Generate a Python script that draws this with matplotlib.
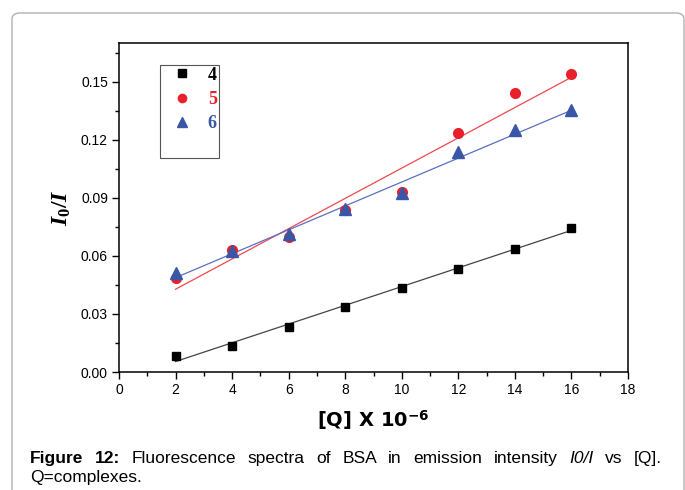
import numpy as np
import matplotlib
matplotlib.use("Agg")
import matplotlib.pyplot as plt
from matplotlib.patches import FancyBboxPatch
from matplotlib.ticker import MultipleLocator

plt.rcParams["font.family"] = ["Liberation Sans", "DejaVu Sans"]
plt.rcParams["mathtext.fontset"] = "custom"
plt.rcParams["mathtext.it"] = "Liberation Serif:italic:bold"
plt.rcParams["mathtext.rm"] = "Liberation Serif:bold"
plt.rcParams["mathtext.bf"] = "DejaVu Sans:bold"

# ── data ────────────────────────────────────────────────────────────────────
conc = [2, 4, 6, 8, 10, 12, 14, 16]
ratio_4 = [0.0084, 0.0136, 0.0234, 0.0338, 0.0436, 0.0533, 0.0638, 0.0745]
ratio_5 = [0.0486, 0.0630, 0.0700, 0.0838, 0.0930, 0.1236, 0.1443, 0.1540]
ratio_6 = [0.0512, 0.0625, 0.0715, 0.0840, 0.0925, 0.1138, 0.1250, 0.1355]
labels = ["4", "5", "6"]

MARK_COLORS = ["#000000", "#e8202a", "#3a57a7"]
LINE_COLORS = ["#444444", "#f0484e", "#5a6fc0"]
MARKERS = ["s", "o", "^"]
SIZES = [6.0, 7.0, 8.0]

fig = plt.figure(figsize=(6.85, 4.9), dpi=100)

# outer rounded frame of the page
frame = FancyBboxPatch((12 / 685, -0.1), (672 / 685), 1.06 - 13 / 490 + 0.04,
                       boxstyle="round,pad=0,rounding_size=0.012",
                       transform=fig.transFigure, fill=False,
                       edgecolor="#b0b0b0", linewidth=1.0, zorder=0)
fig.patches.append(frame)

ax = fig.add_axes([119 / 685, 1 - 372 / 490, 509 / 685, 329 / 490])

x = np.array(conc, dtype=float)
handles = []
for ys, lab, mc, lc, mk, ms in zip([ratio_4, ratio_5, ratio_6], labels,
                                   MARK_COLORS, LINE_COLORS, MARKERS, SIZES):
    ys = np.array(ys)
    k, b = np.polyfit(x, ys, 1)
    ax.plot(x, k * x + b, color=lc, lw=0.9, zorder=2)
    h, = ax.plot(x, ys, ls="none", marker=mk, ms=ms, color=mc,
                 markeredgecolor=mc, label=lab, zorder=3)
    handles.append(h)

ax.set_xlim(0, 18)
ax.set_ylim(0, 0.17)
ax.xaxis.set_major_locator(MultipleLocator(2))
ax.xaxis.set_minor_locator(MultipleLocator(1))
ax.yaxis.set_major_locator(MultipleLocator(0.03))
ax.yaxis.set_minor_locator(MultipleLocator(0.015))
ax.yaxis.set_major_formatter(plt.FuncFormatter(lambda v, p: f"{v:.2f}"))
ax.tick_params(which="major", direction="out", length=5, width=1.0,
               labelsize=10, pad=3)
ax.tick_params(which="minor", direction="out", length=3, width=1.0)
for s in ax.spines.values():
    s.set_linewidth(1.1)

ax.set_xlabel(r"[Q] X 10$^{\mathbf{-6}}$", fontsize=14, fontweight="bold",
              family="DejaVu Sans", labelpad=8)
ax.set_ylabel(r"$I_0/I$", fontsize=17, labelpad=6)

blank, = ax.plot([], [], ls="none", label=" ")
leg = ax.legend(handles=handles + [blank], loc="upper left",
                bbox_to_anchor=(41 / 509, 1 - 22 / 329), borderaxespad=0,
                fancybox=False, edgecolor="#555555", framealpha=1,
                handlelength=2.2, handletextpad=0.35, labelspacing=0.4,
                borderpad=0.1, markerscale=0.85,
                prop={"family": "Liberation Serif", "weight": "bold",
                      "size": 13})
leg.get_frame().set_linewidth(0.8)
for t, c in zip(leg.get_texts(), MARK_COLORS):
    t.set_color(c)

# ── caption, justified across the first line ────────────────────────────────
line1 = [("Figure", "bold", "normal"), ("12:", "bold", "normal"),
         ("Fluorescence", "normal", "normal"), ("spectra", "normal", "normal"),
         ("of", "normal", "normal"), ("BSA", "normal", "normal"),
         ("in", "normal", "normal"), ("emission", "normal", "normal"),
         ("intensity", "normal", "normal"), ("I0/I", "normal", "italic"),
         ("vs", "normal", "normal"), ("[Q].", "normal", "normal")]
cap_kw = dict(fontsize=12.5, family=["Liberation Sans Narrow", "Liberation Sans"])
x0, x1, y1 = 30, 662, 490 - 463
r = fig.canvas.get_renderer()
objs = []
for w, wt, st in line1:
    t = fig.text(0, y1 / 490, w, fontweight=wt, style=st, va="baseline", **cap_kw)
    objs.append(t)
widths = [t.get_window_extent(r).width for t in objs]
gap = (x1 - x0 - sum(widths)) / (len(objs) - 1)
pos = x0
for t, wd in zip(objs, widths):
    t.set_x(pos / 685)
    pos += wd + gap
fig.text(x0 / 685, (490 - 482) / 490, "Q=complexes.", va="baseline", **cap_kw)

fig.savefig("out.png", dpi=100)
